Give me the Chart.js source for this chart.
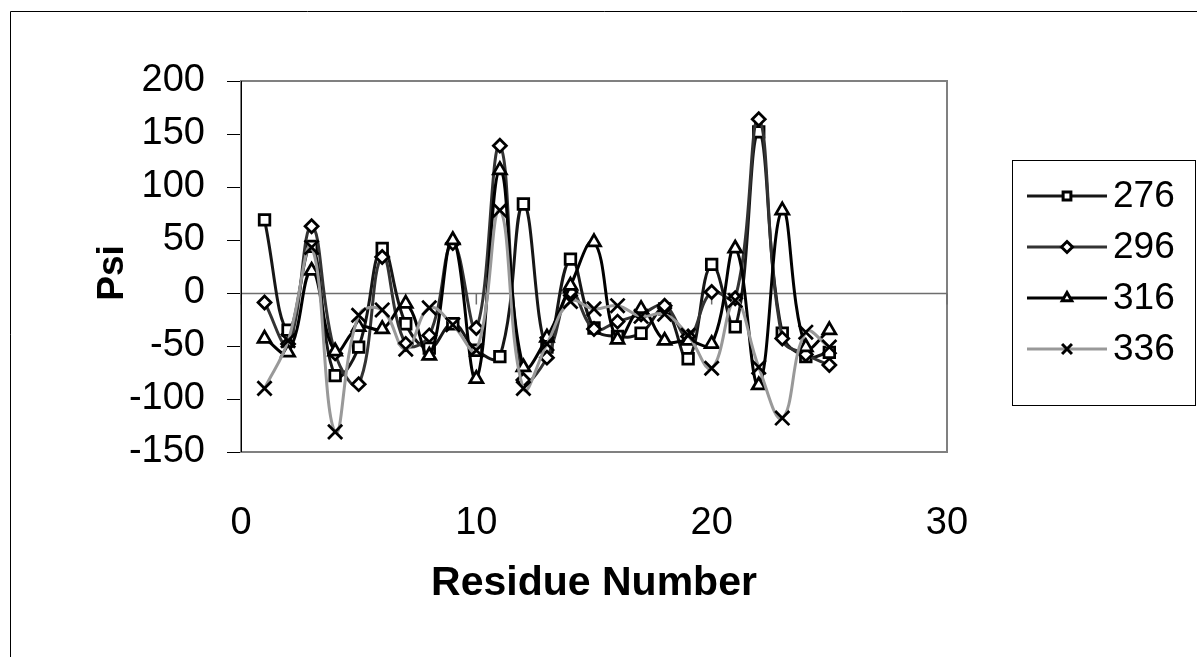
<!DOCTYPE html>
<html><head><meta charset="utf-8">
<script src="https://cdn.jsdelivr.net/npm/chart.js@4"></script>
<style>html,body{margin:0;padding:0;background:#fff;overflow:hidden}#wrap{width:1197px;height:657px;position:relative}</style>
</head><body><div id="wrap"><canvas id="c" width="1197" height="657"></canvas></div>
<script>
const residues = [1,2,3,4,5,6,7,8,9,10,11,12,13,14,15,16,17,18,19,20,21,22,23,24,25];
const psi276 = [69,-35,44,-78,-51,42,-29,-52,-29,-54,-60,84,-51,32,-33,-41,-38,-15,-62,27,-32,152,-38,-60,-56];
const psi296 = [-9,-48,63,-57,-86,34,-48,-40,47,-33,139,-82,-61,1,-34,-27,-20,-12,-41,1,-5,164,-43,-58,-68];
const psi316 = [-43,-56,21,-55,-32,-34,-10,-59,50,-81,116,-70,-42,7,48,-44,-15,-45,-45,-48,42,-87,78,-51,-35];
const psi336 = [-90,-45,43,-131,-21,-16,-53,-14,-30,-54,78,-90,-48,-8,-15,-12,-22,-20,-40,-71,-7,-70,-118,-37,-51];
const seriesLabels = ['276','296','316','336'];
const xTicks = [0,10,20,30];
const yTicks = [-150,-100,-50,0,50,100,150,200];
const xTitle = 'Residue Number';
const yTitle = 'Psi';

function pts(vals){ return residues.map((r,i)=>({x:r,y:vals[i]})); }
const FONT = "'Liberation Sans', Arial, sans-serif";

const datasets = [
  {label:seriesLabels[0], data:pts(psi276), borderColor:'#161616', pointStyle:'rect', pointRadius:7.5, order:3},
  {label:seriesLabels[1], data:pts(psi296), borderColor:'#333333', pointStyle:'rectRot', pointRadius:6.5, order:2},
  {label:seriesLabels[2], data:pts(psi316), borderColor:'#000000', pointStyle:'triangle', pointRadius:7.5, order:1},
  {label:seriesLabels[3], data:pts(psi336), borderColor:'#999999', pointStyle:'crossRot', pointRadius:10, order:0}
].map(d=>Object.assign({
  showLine:true, tension:0.42, borderWidth:3, fill:false,
  pointBorderColor:'#000', pointBackgroundColor:'#fff', pointBorderWidth:2.75
}, d));

const framePlugin = {
  id:'frame',
  beforeDraw(chart){
    const ctx = chart.ctx;
    ctx.save();
    ctx.fillStyle='#fff'; ctx.fillRect(0,0,chart.width,chart.height);
    ctx.strokeStyle='#000'; ctx.lineWidth=1;
    ctx.beginPath();
    ctx.moveTo(10.5, 700); ctx.lineTo(10.5, 11.5); ctx.lineTo(1230, 11.5);
    ctx.stroke();
    // y axis title
    ctx.translate(113, 273); ctx.rotate(-Math.PI/2);
    ctx.fillStyle='#000'; ctx.font = "bold 37px "+FONT; ctx.textAlign='center'; ctx.textBaseline='middle';
    ctx.fillText(yTitle, 0, 0);
    ctx.restore();
  },
  beforeDatasetsDraw(chart){
    const ctx = chart.ctx, a = chart.chartArea, xs = chart.scales.x, ys = chart.scales.y;
    ctx.save();
    ctx.strokeStyle='#808080'; ctx.lineWidth=2;
    ctx.strokeRect(a.left, a.top, a.right-a.left, a.bottom-a.top);
    const y0 = Math.round(ys.getPixelForValue(0))+0.5;
    ctx.strokeStyle='#6e6e6e'; ctx.lineWidth=1.5;
    ctx.beginPath(); ctx.moveTo(a.left, y0); ctx.lineTo(a.right, y0); ctx.stroke();
    xTicks.forEach(v=>{
      const px = xs.getPixelForValue(v);
      ctx.beginPath(); ctx.moveTo(px, y0); ctx.lineTo(px, y0+11); ctx.stroke();
    });
    ctx.strokeStyle='#000'; ctx.lineWidth=1;
    ctx.beginPath(); ctx.moveTo(a.left+0.5, a.top); ctx.lineTo(a.left+0.5, a.bottom); ctx.stroke();
    ctx.restore();
  },
  afterDraw(chart){
    const ctx = chart.ctx;
    ctx.save();
    const bx=1012.5, by=160.5, bw=183, bh=245;
    ctx.fillStyle='#fff'; ctx.fillRect(bx,by,bw,bh);
    ctx.strokeStyle='#000'; ctx.lineWidth=1; ctx.strokeRect(bx,by,bw,bh);
    chart.data.datasets.forEach((ds,i)=>{
      const cy = 196 + i*51;
      ctx.strokeStyle = ds.borderColor; ctx.lineWidth = 3;
      ctx.beginPath(); ctx.moveTo(1027, cy); ctx.lineTo(1107, cy); ctx.stroke();
      ctx.strokeStyle='#000'; ctx.fillStyle='#fff';
      Chart.helpers.drawPoint(ctx, {pointStyle:ds.pointStyle, radius: ds.pointStyle==='crossRot'?7:5.5, borderWidth:2.5}, 1067, cy);
      ctx.fillStyle='#000'; ctx.font = "37px "+FONT; ctx.textBaseline='middle'; ctx.textAlign='left';
      ctx.fillText(ds.label, 1113, cy+1);
    });
    ctx.restore();
  }
};

new Chart(document.getElementById('c'), {
  type:'scatter',
  data:{datasets},
  options:{
    responsive:false, animation:false, devicePixelRatio:1,
    layout:{padding:{left:0, top:81, right:250, bottom:0}},
    plugins:{legend:{display:false}, tooltip:{enabled:false}},
    scales:{
      x:{type:'linear', min:0, max:30,
        afterBuildTicks(s){ s.ticks = xTicks.map(v=>({value:v})); },
        grid:{display:false, drawTicks:false}, border:{display:false},
        ticks:{color:'#000', font:{family:FONT, size:38}, padding:49, maxRotation:0},
        title:{display:true, text:xTitle, color:'#000', font:{family:FONT, size:41, weight:'bold'}, padding:{top:0,bottom:49}},
        afterFit(s){ s.height = 205; }
      },
      y:{type:'linear', min:-150, max:200,
        afterBuildTicks(s){ s.ticks = yTicks.map(v=>({value:v})); },
        grid:{display:true, drawOnChartArea:false, drawTicks:true, tickLength:14, tickColor:'#000', tickWidth:1},
        border:{display:false},
        ticks:{color:'#000', font:{family:FONT, size:38}, padding:22},
        title:{display:false},
        afterFit(s){ s.width = 241; }
      }
    }
  },
  plugins:[framePlugin]
});
</script></body></html>
